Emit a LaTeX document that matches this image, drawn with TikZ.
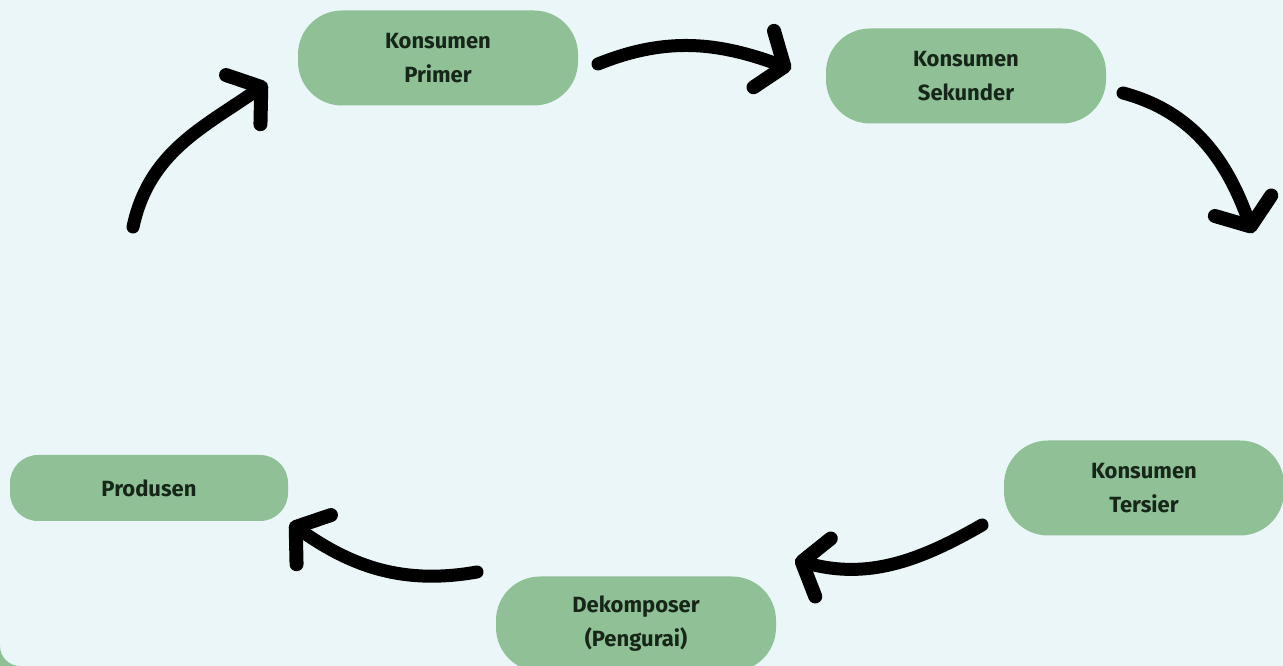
\documentclass[tikz,border=0pt]{standalone}
\usepackage{fontspec}
\setmainfont{Fira Sans}
\usetikzlibrary{arrows.meta}
\definecolor{bgcol}{RGB}{234,246,248}
\definecolor{leaf}{RGB}{143,192,150}
\definecolor{ink}{RGB}{22,38,24}
\tikzset{
  level/.style={fill=leaf, rounded corners=44pt, minimum width=280pt, minimum height=95pt,
    align=center, text=ink, font=\fontsize{22}{34}\selectfont\bfseries},
  flow/.style={line width=13pt, line cap=round,
    -{Straight Barb[length=22pt, width=60pt, line width=14pt, round]}}
}
\begin{document}
\begin{tikzpicture}[x=1pt,y=1pt]
\useasboundingbox (0,0) rectangle (1283,666);
\clip (0,0) rectangle (1283,666);
\fill[bgcol] (0,0) rectangle (1283,666);
\fill[leaf] (0,0) -- (0,20) arc[start angle=180, end angle=270, radius=20] -- cycle;
% levels
\node[level] (prim) at (438,608) {Konsumen\\Primer};
\node[level] (sek) at (966,590) {Konsumen\\Sekunder};
\node[level] (ters) at (1144,178) {Konsumen\\Tersier};
\node[level] (dek) at (636,42) {Dekomposer\\(Pengurai)};
\node[level, minimum width=278pt, minimum height=66pt, rounded corners=28pt] (prod) at (149,178) {Produsen};
% arrow ends
\coordinate (A1) at (133,439);
\coordinate (B1) at (267,583);
\coordinate (A2) at (598,602);
\coordinate (B2) at (791,597);
\coordinate (A3) at (1123,573);
\coordinate (B3) at (1253,433);
\coordinate (A4) at (982,141);
\coordinate (B4) at (795,106);
\coordinate (A5) at (477,94);
\coordinate (B5) at (290,143);
\draw[flow] (A1) to[out=78,in=215] (B1);
\draw[flow] (A2) to[out=22,in=160] (B2);
\draw[flow] (A3) to[out=-15,in=110] (B3);
\draw[flow] (A4) to[out=210,in=-15] (B4);
\draw[flow] (A5) to[out=190,in=-35] (B5);
\end{tikzpicture}
\end{document}
